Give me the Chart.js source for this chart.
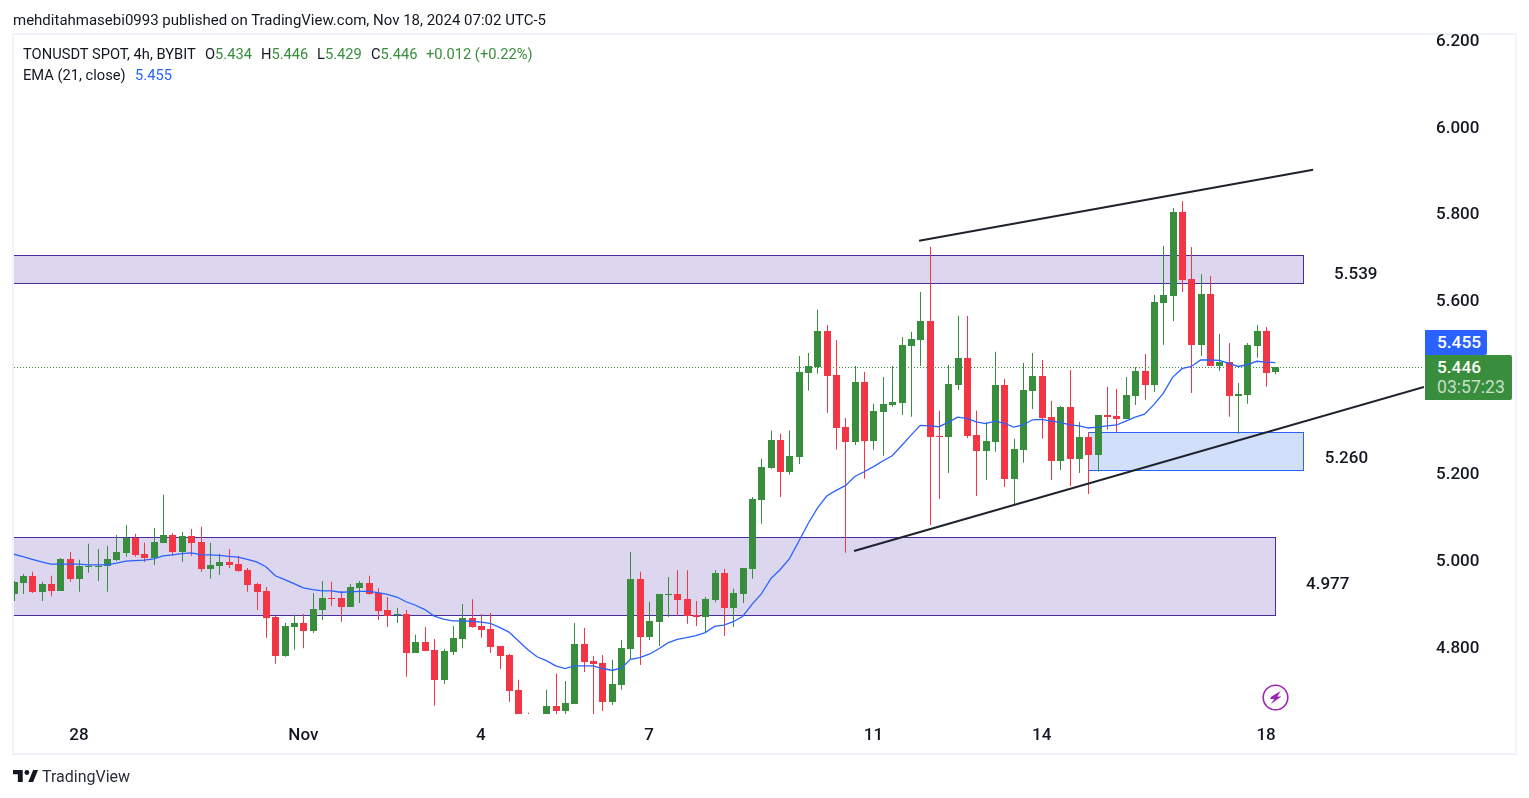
<!DOCTYPE html>
<html><head><meta charset="utf-8"><title>TONUSDT</title>
<script src="https://cdn.jsdelivr.net/npm/chart.js@4"></script>
<style>
html,body{margin:0;padding:0;background:#fff;width:1529px;height:798px;overflow:hidden}
body{font-family:Roboto,"Liberation Sans",sans-serif;color:#131722;position:relative}
canvas{position:absolute;left:0;top:0}
.t{position:absolute;white-space:pre;line-height:1}
#frame{position:absolute;left:12px;top:33px;width:1501px;height:718px;border:2px solid #f0f3fa}
.badge{position:absolute;border-radius:0 2px 2px 0;color:#fff}
.g{color:#388e3c}
.l{font-size:14.7px;top:47px}
</style></head><body>
<div id="frame"></div>
<canvas id="c" width="1529" height="798"></canvas>
<div class="t" style="left:13px;top:13px;font-size:15px">mehditahmasebi0993 published on TradingView.com, Nov 18, 2024 07:02 UTC-5</div>
<div class="t l" style="left:23px">TONUSDT SPOT, 4h, BYBIT</div>
<div class="t l" style="left:205px">O<span class="g">5.434</span></div>
<div class="t l" style="left:261px">H<span class="g">5.446</span></div>
<div class="t l" style="left:317px">L<span class="g">5.429</span></div>
<div class="t l" style="left:371px">C<span class="g">5.446</span></div>
<div class="t l g" style="left:426px">+0.012 (+0.22%)</div>
<div class="t" style="left:23px;top:68px;font-size:14.7px">EMA (21, close)</div>
<div class="t" style="left:135px;top:68px;font-size:14.7px;color:#2962ff">5.455</div>
<div class="badge" style="left:1425px;top:330px;width:62px;height:25px;background:#2962ff"><span class="t" style="left:12px;top:4px;font-size:17.3px;font-weight:500">5.455</span></div>
<div class="badge" style="left:1425px;top:355px;width:87px;height:45px;background:#388e3c"><span class="t" style="left:12px;top:4px;font-size:17.3px;font-weight:500">5.446</span><span class="t" style="left:12px;top:24px;font-size:17.6px;color:rgba(255,255,255,.72)">03:57:23</span></div>
<svg style="position:absolute;left:1262px;top:684px" width="27" height="27" viewBox="0 0 27 27"><circle cx="13.5" cy="13.5" r="12.3" fill="none" stroke="#9c27b0" stroke-width="1.6"/><path d="M18.7 7 L9.5 12.6 L8 15 H12.2 L8.8 20 L19.5 12.6 H15.3 Z" fill="#9c27b0"/></svg>
<svg style="position:absolute;left:13px;top:770px" width="25" height="12" viewBox="0 0 36 17"><path d="M14 0H0v6h7v11h7V0zM29 17h-7L29 0h7l-7 17z" fill="#131722"/><circle cx="20" cy="3.5" r="3.5" fill="#131722"/></svg>
<div class="t" style="left:42px;top:769px;font-size:16px;color:#2a2e39">TradingView</div>
<script>
const firstBarIndex = -7;
const opens = [4.922,4.948,4.964,4.927,4.945,4.929,5.003,4.957,4.985,4.985,4.987,5.001,5.017,5.051,5.015,5.005,5.040,5.058,5.019,5.056,5.042,4.980,4.987,4.996,4.991,4.977,4.945,4.929,4.869,4.779,4.846,4.855,4.837,4.885,4.913,4.913,4.892,4.936,4.948,4.924,4.885,4.874,4.876,4.786,4.811,4.793,4.724,4.788,4.818,4.867,4.848,4.841,4.802,4.781,4.701,4.627,4.608,4.636,4.664,4.652,4.668,4.807,4.767,4.763,4.673,4.712,4.795,4.957,4.823,4.858,4.920,4.922,4.911,4.874,4.869,4.908,4.971,4.890,4.922,4.980,5.139,5.213,5.278,5.204,5.239,5.432,5.446,5.529,5.428,5.308,5.273,5.411,5.275,5.342,5.358,5.363,5.495,5.508,5.552,5.287,5.284,5.405,5.467,5.289,5.252,5.273,5.405,5.188,5.255,5.391,5.425,5.331,5.229,5.354,5.234,5.284,5.243,5.335,5.333,5.326,5.379,5.437,5.405,5.594,5.610,5.804,5.649,5.497,5.615,5.448,5.458,5.379,5.381,5.495,5.529,5.434];
const highs = [4.952,4.968,4.973,4.950,4.964,5.005,5.019,5.001,5.038,5.026,5.033,5.058,5.081,5.061,5.040,5.074,5.151,5.063,5.065,5.072,5.077,5.040,5.015,5.026,5.010,4.982,4.948,4.938,4.871,4.855,4.874,4.876,4.924,4.952,4.950,4.929,4.945,4.952,4.964,4.936,4.915,4.890,4.885,4.828,4.846,4.818,4.795,4.848,4.899,4.910,4.876,4.878,4.802,4.784,4.724,4.648,4.633,4.701,4.738,4.721,4.855,4.844,4.779,4.781,4.770,4.816,5.019,4.973,4.904,4.922,4.961,4.977,4.977,4.906,4.915,4.977,4.980,4.934,4.982,5.146,5.234,5.299,5.292,5.299,5.471,5.478,5.578,5.543,5.508,5.328,5.448,5.435,5.361,5.423,5.448,5.515,5.527,5.619,5.723,5.345,5.451,5.564,5.564,5.345,5.319,5.481,5.418,5.280,5.455,5.478,5.462,5.368,5.356,5.439,5.319,5.296,5.335,5.400,5.395,5.423,5.446,5.476,5.612,5.725,5.813,5.829,5.723,5.660,5.656,5.522,5.501,5.409,5.501,5.543,5.538,5.446];
const lows = [4.906,4.922,4.924,4.906,4.917,4.929,4.950,4.927,4.971,4.952,4.927,4.998,5.008,5.008,4.996,4.989,5.040,5.010,4.996,5.010,4.973,4.957,4.966,4.982,4.973,4.927,4.885,4.821,4.761,4.777,4.793,4.797,4.832,4.862,4.894,4.858,4.892,4.901,4.920,4.862,4.846,4.855,4.731,4.786,4.791,4.664,4.714,4.781,4.797,4.844,4.821,4.786,4.749,4.673,4.631,4.596,4.600,4.627,4.645,4.645,4.668,4.742,4.645,4.652,4.666,4.701,4.770,4.758,4.816,4.802,4.869,4.871,4.853,4.848,4.834,4.903,4.825,4.846,4.901,4.957,5.084,5.211,5.146,5.197,5.222,5.391,5.430,5.340,5.255,5.017,5.266,5.188,5.255,5.241,5.354,5.335,5.331,5.448,5.081,5.141,5.201,5.393,5.282,5.148,5.185,5.250,5.169,5.128,5.225,5.349,5.280,5.185,5.208,5.171,5.201,5.153,5.204,5.301,5.296,5.326,5.358,5.370,5.388,5.497,5.552,5.619,5.386,5.471,5.448,5.437,5.331,5.292,5.361,5.467,5.400,5.429];
const closes = [4.950,4.964,4.927,4.945,4.929,5.003,4.957,4.987,4.987,4.987,5.003,5.019,5.051,5.012,5.005,5.042,5.058,5.019,5.056,5.040,4.980,4.989,4.996,4.989,4.975,4.943,4.927,4.867,4.779,4.848,4.855,4.837,4.887,4.913,4.910,4.892,4.938,4.948,4.922,4.883,4.871,4.876,4.786,4.811,4.791,4.724,4.791,4.821,4.867,4.846,4.839,4.800,4.779,4.698,4.641,4.608,4.628,4.664,4.652,4.671,4.807,4.765,4.761,4.673,4.714,4.797,4.957,4.823,4.860,4.922,4.922,4.908,4.871,4.869,4.911,4.971,4.890,4.924,4.982,5.141,5.215,5.278,5.204,5.241,5.435,5.448,5.529,5.425,5.305,5.273,5.411,5.275,5.345,5.361,5.365,5.497,5.511,5.552,5.284,5.284,5.407,5.467,5.287,5.252,5.275,5.405,5.188,5.257,5.393,5.425,5.328,5.229,5.354,5.234,5.284,5.243,5.335,5.331,5.326,5.381,5.437,5.405,5.596,5.612,5.804,5.647,5.497,5.615,5.448,5.458,5.379,5.384,5.497,5.529,5.432,5.446];
const emaValues = [5.014,5.008,5.002,4.996,4.991,4.991,4.991,4.991,4.989,4.989,4.989,4.993,4.998,4.999,5.000,5.003,5.010,5.012,5.015,5.017,5.013,5.012,5.011,5.009,5.007,5.002,4.996,4.985,4.964,4.955,4.946,4.936,4.932,4.929,4.929,4.926,4.927,4.928,4.928,4.925,4.921,4.915,4.904,4.896,4.886,4.871,4.864,4.860,4.860,4.859,4.857,4.854,4.845,4.834,4.814,4.794,4.777,4.768,4.756,4.750,4.756,4.756,4.756,4.750,4.746,4.750,4.771,4.775,4.783,4.795,4.809,4.817,4.821,4.826,4.833,4.847,4.850,4.858,4.870,4.898,4.922,4.957,4.978,5.003,5.043,5.084,5.120,5.148,5.161,5.172,5.193,5.204,5.216,5.229,5.241,5.264,5.288,5.311,5.310,5.308,5.318,5.330,5.327,5.319,5.315,5.321,5.316,5.307,5.312,5.324,5.325,5.321,5.318,5.312,5.310,5.305,5.307,5.310,5.312,5.321,5.330,5.337,5.359,5.385,5.422,5.442,5.447,5.462,5.462,5.461,5.455,5.447,5.451,5.459,5.457,5.456];
const priceTicks = [4.8,5.0,5.2,5.6,5.8,6.0,6.2];
const priceTickLabels = ["4.800","5.000","5.200","5.600","5.800","6.000","6.200"];
const dateTickIndex = [0,24,43,61,85,103,127];
const dateTickLabels = ["28","Nov","4","7","11","14","18"];
const xRange = [-6.955,143.9];
const yRange = [4.645,6.212];
const lastClose = 5.446;
const zones = [
  {x0:-20,x1:130.97,top:5.705,bottom:5.640,fill:"#dcd7ee",stroke:"#4a2c9e"},
  {x0:-20,x1:127.98,top:5.053,bottom:4.874,fill:"#dcd7ee",stroke:"#4a2c9e"},
  {x0:108,x1:130.97,top:5.295,bottom:5.208,fill:"#d1dffb",stroke:"#2962ff"}
];
const upperTrend = [[89.88,5.737],[132.04,5.901]];
const lowerTrend = [[82.92,5.021],[143.9,5.400]];
const noteLabels = [
  {text:"5.539",x:136.6,y:5.659},
  {text:"5.260",x:135.6,y:5.234},
  {text:"4.977",x:133.6,y:4.944}
];
const UP="#388e3c", DOWN="#f23645";
const idx = k => firstBarIndex + k;
const barColors = closes.map((c,k)=> c>=opens[k] ? UP : DOWN);
const toXY = a => a.map(p=>({x:p[0],y:p[1]}));

const zonePlugin = {
  id:"zones",
  beforeDatasetsDraw(chart){
    const {ctx,chartArea:a,scales:{x,y}} = chart;
    // snap candles to whole pixels, as the original renderer does
    chart.data.datasets.forEach((d,i)=>{
      if(d.type!=="bar") return;
      chart.getDatasetMeta(i).data.forEach(el=>{
        el.x = Math.round(el.x)+0.5;
        if(d.snapY){
          let t=Math.round(el.y), b=Math.round(el.base);
          if(Math.abs(b-t)<1) b=t+1;
          el.y=t; el.base=b;
        }
      });
    });
    ctx.save();
    ctx.beginPath();ctx.rect(a.left,a.top,a.width,a.height);ctx.clip();
    zones.forEach(z=>{
      const l=Math.round(x.getPixelForValue(z.x0))+.5, r=Math.round(x.getPixelForValue(z.x1))+.5;
      const t=Math.round(y.getPixelForValue(z.top))+.5, b=Math.round(y.getPixelForValue(z.bottom))+.5;
      ctx.fillStyle=z.fill;ctx.fillRect(l,t,r-l,b-t);
      ctx.strokeStyle=z.stroke;ctx.lineWidth=1;ctx.strokeRect(l,t,r-l,b-t);
    });
    const py=Math.round(y.getPixelForValue(lastClose))+.5;
    ctx.strokeStyle=UP;ctx.lineWidth=1;ctx.setLineDash([1,2]);
    ctx.beginPath();ctx.moveTo(a.left,py);ctx.lineTo(a.right,py);ctx.stroke();
    ctx.restore();
  },
  afterDatasetsDraw(chart){
    const {ctx,scales:{x,y}} = chart;
    ctx.save();
    ctx.fillStyle="#131722";ctx.font='500 17px Roboto';ctx.textAlign="center";ctx.textBaseline="middle";
    noteLabels.forEach(n=>ctx.fillText(n.text,x.getPixelForValue(n.x),y.getPixelForValue(n.y)));
    ctx.restore();
  }
};

new Chart(document.getElementById("c"),{
  type:"bar",
  data:{datasets:[
    {type:"line",order:0,data:toXY(upperTrend),borderColor:"#1e222d",borderWidth:2,pointRadius:0,tension:0},
    {type:"line",order:0,data:toXY(lowerTrend),borderColor:"#1e222d",borderWidth:2,pointRadius:0,tension:0},
    {type:"line",order:1,data:emaValues.map((v,k)=>({x:idx(k),y:v})),borderColor:"#2962ff",borderWidth:1.3,pointRadius:0,tension:0},
    {type:"bar",order:2,snapY:true,grouped:false,barThickness:7,inflateAmount:0,data:opens.map((o,k)=>({x:idx(k),y:[o,closes[k]]})),backgroundColor:barColors,borderWidth:0},
    {type:"bar",order:3,grouped:false,barThickness:1,inflateAmount:0,data:lows.map((l,k)=>({x:idx(k),y:[l,highs[k]]})),backgroundColor:barColors,borderWidth:0}
  ]},
  options:{
    responsive:false,animation:false,devicePixelRatio:1,
    layout:{padding:{left:14,top:35,right:13,bottom:44}},
    plugins:{legend:{display:false},title:{display:false},tooltip:{enabled:false}},
    scales:{
      x:{type:"linear",min:xRange[0],max:xRange[1],offset:false,
        grid:{display:false},border:{display:false},
        afterBuildTicks(s){s.ticks=dateTickIndex.map(v=>({value:v}));},
        afterFit(s){s.height=40;},
        ticks:{autoSkip:false,maxRotation:0,padding:4,color:"#131722",font:{family:"Roboto",size:17,weight:"500"},
          callback(v){return dateTickLabels[dateTickIndex.indexOf(v)];}}},
      y:{type:"linear",position:"right",min:yRange[0],max:yRange[1],
        grid:{display:false},border:{display:false},
        afterBuildTicks(s){s.ticks=priceTicks.map(v=>({value:v}));},
        afterFit(s){s.width=92;},
        ticks:{padding:4,labelOffset:1.5,color:"#131722",font:{family:"Roboto",size:17,weight:"500"},
          callback(v){return priceTickLabels[priceTicks.indexOf(v)];}}}
    }
  },
  plugins:[zonePlugin]
});
</script>
</body></html>
